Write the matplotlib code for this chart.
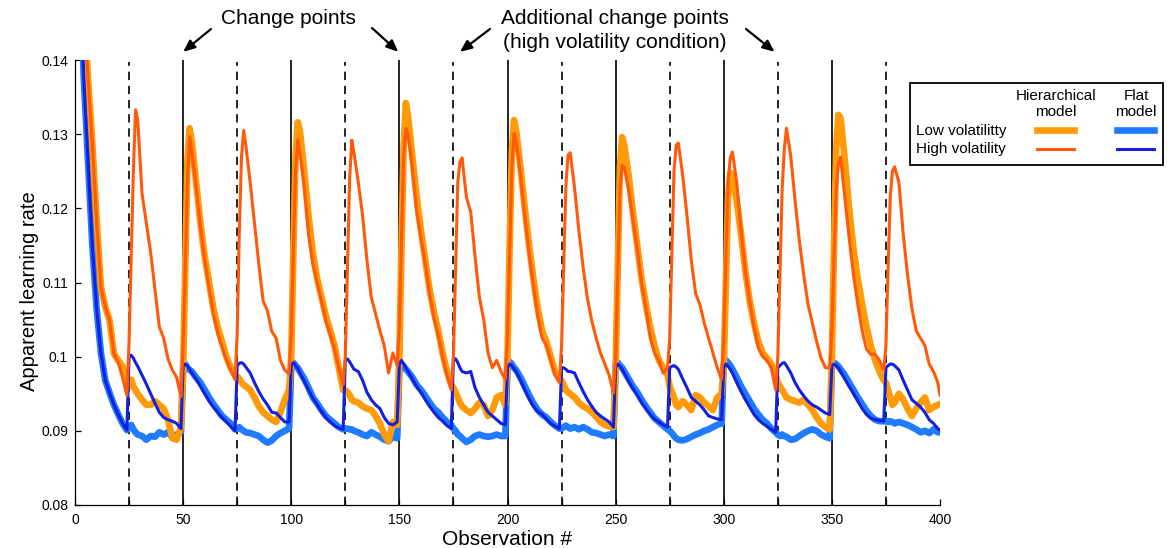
import matplotlib
matplotlib.use('Agg')
import matplotlib.pyplot as plt
from matplotlib.patches import Rectangle
from matplotlib.lines import Line2D

plt.rcParams['font.family'] = ['Liberation Sans', 'DejaVu Sans']

# observation grid (offsets inside each 25-observation block)
OFFS = [0, 1, 2, 3, 4, 6, 8, 10, 12, 14, 16, 18, 20, 22, 24]
obs = [25 * s + o for s in range(16) for o in OFFS] + [400]

# Hierarchical model, low volatility (thick orange)
hier_low = [
    0.25, 0.2, 0.175, 0.158, 0.148, 0.1375, 0.1288, 0.1184, 0.1094, 0.1067, 0.1049, 0.1004, 0.0995, 0.0987, 0.0969,
    0.096, 0.0969, 0.096, 0.0955, 0.095, 0.0942, 0.0935, 0.0935, 0.094, 0.0935, 0.093, 0.0915, 0.089, 0.0888, 0.0905,
    0.098, 0.112, 0.1265, 0.1308, 0.129, 0.1235, 0.118, 0.1135, 0.11, 0.1065, 0.104, 0.102, 0.1, 0.0985, 0.0975,
    0.0973, 0.097, 0.0965, 0.0962, 0.096, 0.0955, 0.0945, 0.0933, 0.0925, 0.092, 0.0915, 0.0912, 0.0925, 0.0942, 0.0955,
    0.1, 0.1145, 0.127, 0.1316, 0.1305, 0.125, 0.119, 0.114, 0.1105, 0.108, 0.1055, 0.1035, 0.1015, 0.0985, 0.0955,
    0.0955, 0.0952, 0.0948, 0.0942, 0.094, 0.0938, 0.0933, 0.093, 0.0928, 0.092, 0.091, 0.0895, 0.0886, 0.0912, 0.0908,
    0.1, 0.115, 0.1285, 0.1342, 0.1325, 0.127, 0.1215, 0.117, 0.113, 0.109, 0.106, 0.1035, 0.1005, 0.098, 0.0962,
    0.0958, 0.0952, 0.0945, 0.0938, 0.0933, 0.0928, 0.0924, 0.093, 0.0938, 0.0935, 0.092, 0.0928, 0.0945, 0.0948, 0.0935,
    0.1, 0.115, 0.1275, 0.1319, 0.1305, 0.1255, 0.12, 0.115, 0.1105, 0.1065, 0.1035, 0.102, 0.1, 0.098, 0.097,
    0.0968, 0.0962, 0.0955, 0.0952, 0.095, 0.0945, 0.0938, 0.0933, 0.093, 0.0925, 0.0919, 0.0912, 0.0908, 0.0906, 0.0905,
    0.0985, 0.112, 0.1255, 0.1296, 0.1285, 0.1245, 0.1195, 0.115, 0.1105, 0.107, 0.104, 0.1015, 0.0995, 0.0985, 0.0975,
    0.096, 0.0952, 0.0945, 0.0935, 0.0932, 0.094, 0.0935, 0.0928, 0.0948, 0.0945, 0.0938, 0.0933, 0.0928, 0.0945, 0.095,
    0.0985, 0.11, 0.1215, 0.1248, 0.1245, 0.121, 0.1165, 0.1115, 0.1075, 0.1045, 0.102, 0.1005, 0.0998, 0.099, 0.0975,
    0.0965, 0.096, 0.0955, 0.095, 0.0945, 0.0942, 0.094, 0.0938, 0.0942, 0.0935, 0.0928, 0.0918, 0.091, 0.0905, 0.0902,
    0.1, 0.115, 0.128, 0.1326, 0.1322, 0.1265, 0.12, 0.1145, 0.1105, 0.107, 0.104, 0.1015, 0.0995, 0.098, 0.0968,
    0.0965, 0.0955, 0.0945, 0.0935, 0.0938, 0.095, 0.0942, 0.093, 0.092, 0.093, 0.0938, 0.0945, 0.0928, 0.0932, 0.0935,
    0.0936,
]

# Hierarchical model, high volatility (thin red-orange)
hier_high = [
    0.25, 0.2, 0.175, 0.158, 0.148, 0.1375, 0.1288, 0.1184, 0.1094, 0.1067, 0.1049, 0.1004, 0.0992, 0.0972, 0.0948,
    0.102, 0.1135, 0.125, 0.1333, 0.1319, 0.122, 0.118, 0.114, 0.109, 0.104, 0.1025, 0.0997, 0.0982, 0.0972, 0.0946,
    0.1015, 0.112, 0.1235, 0.1297, 0.1278, 0.1229, 0.1175, 0.113, 0.1094, 0.1058, 0.1031, 0.1013, 0.0996, 0.0982, 0.0969,
    0.103, 0.117, 0.127, 0.1305, 0.1285, 0.1235, 0.118, 0.1125, 0.1075, 0.1062, 0.1034, 0.1025, 0.0995, 0.0982, 0.0977,
    0.103, 0.1145, 0.125, 0.1292, 0.1275, 0.123, 0.1165, 0.1125, 0.11, 0.1075, 0.1048, 0.103, 0.101, 0.0985, 0.0962,
    0.1, 0.112, 0.124, 0.1292, 0.1275, 0.1235, 0.119, 0.113, 0.108, 0.1058, 0.1035, 0.1015, 0.0978, 0.1005, 0.0988,
    0.104, 0.116, 0.127, 0.1308, 0.13, 0.1255, 0.1195, 0.116, 0.1125, 0.1085, 0.1052, 0.1028, 0.1, 0.0975, 0.0955,
    0.1, 0.112, 0.1235, 0.1262, 0.1268, 0.1215, 0.1195, 0.1135, 0.108, 0.105, 0.1005, 0.0985, 0.0995, 0.098, 0.0969,
    0.103, 0.1145, 0.1255, 0.1301, 0.1292, 0.1245, 0.119, 0.114, 0.1095, 0.1055, 0.1025, 0.1015, 0.0995, 0.0975, 0.0965,
    0.1015, 0.1125, 0.123, 0.1272, 0.1275, 0.1228, 0.117, 0.112, 0.1078, 0.1048, 0.1025, 0.1005, 0.099, 0.0975, 0.0951,
    0.1, 0.111, 0.1225, 0.1258, 0.1255, 0.1225, 0.1185, 0.1145, 0.11, 0.1065, 0.1025, 0.1005, 0.0995, 0.0978, 0.0985,
    0.1025, 0.114, 0.125, 0.1285, 0.1288, 0.1245, 0.119, 0.113, 0.1085, 0.107, 0.1045, 0.1025, 0.1005, 0.0985, 0.0969,
    0.1025, 0.1135, 0.1235, 0.1268, 0.1276, 0.1235, 0.117, 0.1115, 0.1075, 0.104, 0.1012, 0.1, 0.0995, 0.0985, 0.0955,
    0.1, 0.1115, 0.1225, 0.128, 0.1308, 0.127, 0.121, 0.1155, 0.111, 0.107, 0.1045, 0.102, 0.0998, 0.0985, 0.0985,
    0.1035, 0.1135, 0.1225, 0.126, 0.1269, 0.1215, 0.116, 0.111, 0.107, 0.1035, 0.101, 0.1003, 0.1003, 0.0995, 0.0982,
    0.1015, 0.112, 0.1215, 0.125, 0.1256, 0.1235, 0.1165, 0.111, 0.1065, 0.1035, 0.1025, 0.1015, 0.099, 0.098, 0.0965,
    0.0948,
]

# Flat model, low volatility (thick light blue)
flat_low = [
    0.3, 0.2, 0.165, 0.148, 0.138, 0.1265, 0.115, 0.1065, 0.1005, 0.0968, 0.0951, 0.0935, 0.0922, 0.091, 0.0901,
    0.0905, 0.0908, 0.0902, 0.0898, 0.0895, 0.0893, 0.0888, 0.0893, 0.0892, 0.0898, 0.0895, 0.0898, 0.0892, 0.0895, 0.0898,
    0.0985, 0.099, 0.0985, 0.0982, 0.098, 0.0972, 0.0965, 0.0955, 0.0945, 0.0936, 0.0928, 0.092, 0.0915, 0.091, 0.0902,
    0.0903, 0.0905, 0.0902, 0.09, 0.0898, 0.0897, 0.0895, 0.0893, 0.0888, 0.0884, 0.0887, 0.0893, 0.0897, 0.09, 0.0903,
    0.0988, 0.0992, 0.0988, 0.0985, 0.098, 0.097, 0.0958, 0.0945, 0.0937, 0.0928, 0.092, 0.0915, 0.091, 0.0905, 0.0902,
    0.0903, 0.0903, 0.0902, 0.0902, 0.09, 0.0898, 0.0895, 0.0893, 0.0898, 0.0895, 0.0892, 0.0888, 0.0886, 0.0892, 0.089,
    0.0985, 0.099, 0.0987, 0.0983, 0.098, 0.0972, 0.0962, 0.0955, 0.0947, 0.0938, 0.093, 0.0925, 0.0918, 0.0912, 0.0908,
    0.0903, 0.09, 0.0895, 0.0893, 0.089, 0.0885, 0.0888, 0.0893, 0.0895, 0.0893, 0.0892, 0.0893, 0.0895, 0.0893, 0.0893,
    0.0988, 0.0993, 0.099, 0.0985, 0.0982, 0.0972, 0.096, 0.0948, 0.0937, 0.0928, 0.0922, 0.0918, 0.0912, 0.0907, 0.0903,
    0.0903, 0.0905, 0.0907, 0.0905, 0.0903, 0.0905, 0.0902, 0.0905, 0.0902, 0.0898, 0.0897, 0.0895, 0.0893, 0.0895, 0.0893,
    0.0988, 0.0992, 0.0988, 0.0985, 0.098, 0.097, 0.096, 0.0952, 0.0942, 0.0933, 0.0925, 0.0917, 0.0912, 0.0907, 0.0902,
    0.09, 0.0897, 0.0893, 0.089, 0.0888, 0.0887, 0.0889, 0.0892, 0.0895, 0.0897, 0.09, 0.0902, 0.0905, 0.0908, 0.091,
    0.099, 0.0995, 0.0992, 0.0988, 0.0983, 0.0972, 0.096, 0.095, 0.094, 0.093, 0.0922, 0.0915, 0.091, 0.0903, 0.0898,
    0.0895, 0.0893, 0.0895, 0.0893, 0.0892, 0.0888, 0.0889, 0.0893, 0.0897, 0.09, 0.0902, 0.09, 0.0895, 0.0892, 0.089,
    0.0988, 0.0992, 0.099, 0.0987, 0.0983, 0.0975, 0.0965, 0.0955, 0.0945, 0.0936, 0.0927, 0.092, 0.0915, 0.0913, 0.0913,
    0.0913, 0.0912, 0.0913, 0.0912, 0.091, 0.0912, 0.091, 0.0908, 0.0905, 0.0902, 0.0898, 0.09, 0.0897, 0.0902, 0.0898,
    0.0898,
]

# Flat model, high volatility (thin dark blue)
flat_high = [
    0.3, 0.2, 0.165, 0.148, 0.138, 0.1265, 0.115, 0.1065, 0.1005, 0.0968, 0.0951, 0.0935, 0.0922, 0.091, 0.0901,
    0.1, 0.1002, 0.0998, 0.0992, 0.0987, 0.0975, 0.0963, 0.095, 0.0937, 0.0925, 0.0918, 0.0915, 0.0913, 0.091, 0.0903,
    0.0988, 0.099, 0.0987, 0.0983, 0.0978, 0.097, 0.096, 0.095, 0.094, 0.0932, 0.0925, 0.0918, 0.0912, 0.0906, 0.09,
    0.0988, 0.0991, 0.0992, 0.099, 0.0986, 0.0978, 0.0965, 0.0953, 0.0943, 0.0935, 0.0925, 0.0924, 0.0918, 0.0912, 0.0912,
    0.0988, 0.0992, 0.0988, 0.0984, 0.0978, 0.0967, 0.0955, 0.0944, 0.0935, 0.0926, 0.0918, 0.0912, 0.0907, 0.0904, 0.0902,
    0.0995, 0.0997, 0.0993, 0.0988, 0.0983, 0.098, 0.0968, 0.0952, 0.0942, 0.0935, 0.093, 0.0918, 0.091, 0.0908, 0.0912,
    0.099, 0.0995, 0.099, 0.0985, 0.098, 0.097, 0.096, 0.0952, 0.0942, 0.0933, 0.0925, 0.0918, 0.0913, 0.0907, 0.0903,
    0.0998, 0.0997, 0.0992, 0.0985, 0.098, 0.0978, 0.098, 0.0958, 0.0945, 0.0935, 0.0925, 0.092, 0.0915, 0.091, 0.0908,
    0.0985, 0.099, 0.0988, 0.0984, 0.098, 0.0968, 0.0955, 0.0943, 0.0933, 0.0926, 0.0922, 0.0916, 0.091, 0.0906, 0.0903,
    0.0985, 0.0985, 0.0983, 0.098, 0.098, 0.0978, 0.0965, 0.0953, 0.0942, 0.0933, 0.0925, 0.092, 0.0916, 0.0912, 0.0905,
    0.0985, 0.099, 0.0987, 0.0983, 0.0978, 0.0967, 0.0957, 0.0948, 0.0938, 0.093, 0.0922, 0.0916, 0.0912, 0.0908, 0.0905,
    0.0985, 0.0987, 0.0988, 0.0986, 0.0983, 0.097, 0.0958, 0.0945, 0.094, 0.0935, 0.0928, 0.092, 0.0918, 0.0916, 0.0915,
    0.0985, 0.099, 0.0987, 0.0983, 0.0978, 0.0965, 0.0953, 0.0942, 0.0932, 0.0922, 0.0915, 0.091, 0.0906, 0.0902, 0.0898,
    0.0985, 0.0988, 0.0991, 0.0992, 0.0988, 0.0978, 0.0965, 0.0955, 0.0947, 0.094, 0.0935, 0.0932, 0.0928, 0.0924, 0.0922,
    0.0988, 0.099, 0.0988, 0.0985, 0.098, 0.097, 0.096, 0.095, 0.094, 0.093, 0.0922, 0.0917, 0.0915, 0.0914, 0.0913,
    0.0985, 0.0988, 0.099, 0.099, 0.0988, 0.0982, 0.0968, 0.0955, 0.0942, 0.0937, 0.0932, 0.0925, 0.0915, 0.091, 0.0903,
    0.0901,
]

change_points = [50, 100, 150, 200, 250, 300, 350]
extra_change_points = [25, 75, 125, 175, 225, 275, 325, 375]
x_ticks = [0, 50, 100, 150, 200, 250, 300, 350, 400]
y_ticks = [0.08, 0.09, 0.10, 0.11, 0.12, 0.13, 0.14]
y_tick_labels = ['0.08', '0.09', '0.1', '0.11', '0.12', '0.13', '0.14']

C_LOW_H = '#FF9A08'
C_HIGH_H = '#FF5A0A'
C_LOW_F = '#1F7BFF'
C_HIGH_F = '#1420E0'
LW_THICK = 4.8
LW_THIN = 2.2

W, H = 1168, 548
fig = plt.figure(figsize=(W / 100, H / 100), dpi=100)
ax = fig.add_axes([75 / W, 1 - 505 / H, 865 / W, 445 / H])

ax.vlines(change_points, 0.08, 0.14, colors='black', lw=1.2, zorder=1)
ax.vlines(extra_change_points, 0.08, 0.1397, colors='black', lw=1.2,
          linestyles=(0, (5, 3.5)), zorder=1)

ax.plot(obs, flat_low, color=C_LOW_F, lw=LW_THICK, solid_joinstyle='round', zorder=2)
ax.plot(obs, hier_low, color=C_LOW_H, lw=LW_THICK, solid_joinstyle='round', zorder=3)
ax.plot(obs, flat_high, color=C_HIGH_F, lw=LW_THIN, solid_joinstyle='round', zorder=4)
ax.plot(obs, hier_high, color=C_HIGH_H, lw=LW_THIN, solid_joinstyle='round', zorder=5)

ax.set_xlim(0, 400)
ax.set_ylim(0.08, 0.14)
ax.set_xticks(x_ticks)
ax.set_xticks(extra_change_points, minor=True)
ax.set_yticks(y_ticks)
ax.set_yticklabels(y_tick_labels)
ax.tick_params(axis='both', which='both', direction='in', length=4, width=0.9,
               labelsize=10, pad=5)
ax.tick_params(axis='x', which='both', pad=6)
for s in ['top', 'right']:
    ax.spines[s].set_visible(False)
for s in ['left', 'bottom']:
    ax.spines[s].set_linewidth(0.9)

ax.set_xlabel('Observation #', fontsize=15, labelpad=2)
ax.set_ylabel('Apparent learning rate', fontsize=14.5)
ax.yaxis.set_label_coords((39 - 75) / 865, (505 - 291) / 445)

# annotations
arrow_kw = dict(arrowstyle='-|>,head_length=0.7,head_width=0.3', color='black',
                lw=1.6, shrinkA=0, shrinkB=0)
fig.text(288 / W, 1 - 18 / H, 'Change points', ha='center', va='center', fontsize=15)
fig.text(615 / W, 1 - 18 / H, 'Additional change points', ha='center', va='center', fontsize=15)
fig.text(615 / W, 1 - 42 / H, '(high volatility condition)', ha='center', va='center', fontsize=15)
for head_x, tail in [(50, (211, H - 29)), (149.5, (372, H - 28)),
                     (178, (490, H - 29)), (323.5, (746, H - 29))]:
    ax.annotate('', xy=(head_x, 0.1411), xycoords='data', xytext=tail,
                textcoords='figure pixels', arrowprops=arrow_kw, annotation_clip=False)

# legend drawn in pixel space
ov = fig.add_axes([0, 0, 1, 1])
ov.set_xlim(0, W)
ov.set_ylim(H, 0)
ov.axis('off')
ov.patch.set_alpha(0)
ov.add_patch(Rectangle((910, 83), 253, 82, fill=False, ec='black', lw=1.3))
for hx, txt in [(1056, 'Hierarchical'), (1136, 'Flat')]:
    ov.text(hx, 96, txt, ha='center', va='center', fontsize=11)
    ov.text(hx, 112, 'model', ha='center', va='center', fontsize=11)
ov.text(916, 131, 'Low volatilitty', ha='left', va='center', fontsize=11)
ov.text(916, 149, 'High volatility', ha='left', va='center', fontsize=11)
ov.add_line(Line2D([1037, 1074], [130, 130], color=C_LOW_H, lw=LW_THICK))
ov.add_line(Line2D([1117, 1154], [130, 130], color=C_LOW_F, lw=LW_THICK))
ov.add_line(Line2D([1037, 1074], [149, 149], color=C_HIGH_H, lw=LW_THIN))
ov.add_line(Line2D([1117, 1154], [149, 149], color=C_HIGH_F, lw=LW_THIN))

fig.savefig('out.png', dpi=100)
